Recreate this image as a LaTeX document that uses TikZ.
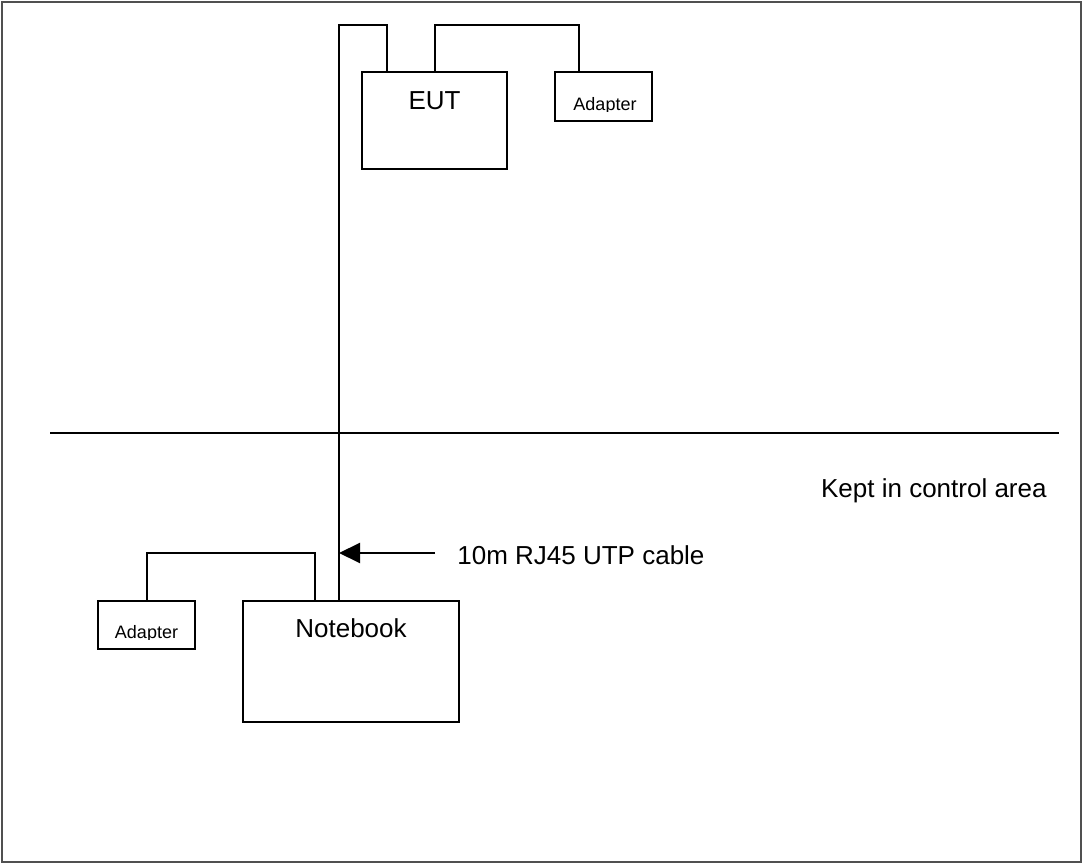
\documentclass[tikz,border=0pt]{standalone}
\usepackage{fontspec}
\setmainfont{Liberation Sans}
\usetikzlibrary{arrows.meta}

\begin{document}
\begin{tikzpicture}[x=0.5pt, y=-0.5pt,
    device/.style={draw=black, line width=1pt, inner sep=0pt, outer sep=0pt},
    cable/.style={draw=black, line width=1pt},
    bigtext/.style={font=\fontsize{13}{15}\selectfont, inner sep=0pt, anchor=base},
    smalltext/.style={font=\fontsize{9}{11}\selectfont, inner sep=0pt, anchor=base}]

    \definecolor{frameColour}{HTML}{505050}

    % Frame
    \useasboundingbox (0,0) rectangle (1083,865);
    \draw[frameColour, line width=0.7pt] (2,2) rectangle (1081,862);

    % Devices
    \node[device, minimum width=72.5pt, minimum height=48.5pt] (eut) at (434.5,120.5) {};
    \node[device, minimum width=48.5pt, minimum height=24.5pt] (adpA) at (603.5,96.5) {};
    \node[device, minimum width=108pt, minimum height=60.5pt] (nb) at (351,661.5) {};
    \node[device, minimum width=48.5pt, minimum height=24pt] (adpB) at (146.5,625) {};

    % Device labels
    \node[bigtext] (eutLabel) at ([yshift=-19pt]eut.north) {EUT};
    \node[bigtext] (nbLabel) at ([yshift=-18.5pt]nb.north) {Notebook};
    \begin{scope}
        \clip (adpA.north west) rectangle ([yshift=4.5pt]adpA.south east);
        \node[smalltext] (adpALabel) at ([xshift=0.75pt, yshift=5pt]adpA.south) {Adapter};
    \end{scope}
    \begin{scope}
        \clip (adpB.north west) rectangle ([yshift=4.5pt]adpB.south east);
        \node[smalltext] (adpBLabel) at ([yshift=5pt]adpB.south) {Adapter};
    \end{scope}

    % Cables
    \coordinate (eutPort) at ([xshift=12.5pt]eut.north west);
    \coordinate (nbPort) at ([xshift=48pt]nb.north west);
    \coordinate (cableTop) at (339,25);
    \draw[cable] (eutPort) |- (cableTop) -- (nbPort);
    \draw[cable] (eut.north) -- ++(0,-47) -| ([xshift=12pt]adpA.north west);
    \draw[cable] (adpB.north) -- ++(0,-48) -| ([xshift=36pt]nb.north west);

    % Boundary of control area
    \draw[line width=1pt] (50,433) -- (1059,433);
    \node[bigtext, anchor=base east] (keptLabel) at (1047,498) {Kept in control area};

    % Cable label
    \coordinate (arrowTail) at (435,553);
    \draw[cable, -{Triangle[length=10.5pt, width=10pt]}] (arrowTail) -- (arrowTail -| nbPort);
    \node[bigtext, anchor=base west] (cableLabel) at (457,565) {10m RJ45 UTP cable};

\end{tikzpicture}
\end{document}
